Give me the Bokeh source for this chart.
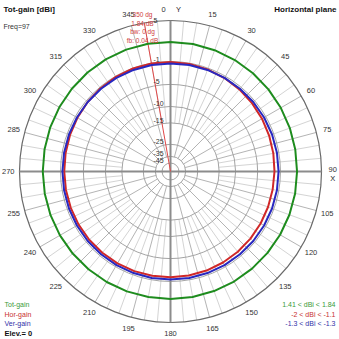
import math
from bokeh.plotting import figure
from bokeh.models import Range1d, Label, ColumnDataSource
from bokeh.core.properties import value
from bokeh.embed import file_html
from bokeh.resources import INLINE

# ---------------- data ----------------
angles_deg = [0, 10, 20, 30, 40, 50, 60, 70, 80, 90, 100, 110, 120, 130, 140, 150, 160, 170,
              180, 190, 200, 210, 220, 230, 240, 250, 260, 270, 280, 290, 300, 310, 320, 330, 340, 350]
tot_gain = [1.82, 1.79, 1.75, 1.70, 1.64, 1.58, 1.52, 1.47, 1.43, 1.41, 1.41, 1.41, 1.41, 1.42, 1.45, 1.48, 1.50, 1.52,
            1.53, 1.54, 1.55, 1.55, 1.55, 1.56, 1.56, 1.56, 1.56, 1.57, 1.59, 1.62, 1.66, 1.71, 1.76, 1.81, 1.83, 1.84]
hor_gain = [-1.08, -1.14, -1.22, -1.32, -1.44, -1.57, -1.69, -1.80, -1.89, -1.96, -2.00, -1.99, -1.95, -1.90, -1.84, -1.78, -1.73, -1.69,
            -1.66, -1.64, -1.63, -1.62, -1.62, -1.61, -1.61, -1.61, -1.60, -1.59, -1.55, -1.48, -1.39, -1.29, -1.19, -1.11, -1.06, -1.05]
ver_gain = [-1.3, -1.3, -1.3, -1.3, -1.3, -1.3, -1.3, -1.3, -1.3, -1.3, -1.3, -1.3, -1.3, -1.3, -1.3, -1.3, -1.3, -1.3,
            -1.3, -1.3, -1.3, -1.3, -1.3, -1.3, -1.3, -1.3, -1.3, -1.3, -1.3, -1.3, -1.3, -1.3, -1.3, -1.3, -1.3, -1.3]

ring_db = [-1, -5, -10, -15, -25, -35, -45]
ring_labels = ["-1", "-5", "-10", "-15", "-25", "-35", "-45"]
scale_max_db = 5
angle_ticks = [0, 15, 30, 45, 60, 75, 90, 105, 120, 135, 150, 165, 180, 195, 210, 225, 240, 255, 270, 285, 300, 315, 330, 345]
angle_tick_labels = ["0", "15", "30", "45", "60", "75", "90", "105", "120", "135", "150", "165", "180",
                     "195", "210", "225", "240", "255", "270", "285", "300", "315", "330", "345"]
max_dir = 350
max_info = ["350 dg", "1.84 dB", "bw: 0 dg", "fb: 0.04 dB"]
legend_names = ["Tot-gain", "Hor-gain", "Ver-gain"]
legend_ranges = ["1.41 < dBi < 1.84", "-2 < dBi < -1.1", "-1.3 < dBi < -1.3"]

# ---------------- layout ----------------
W = H = 339
U = 156.0      # px per normalized radius unit
CX, CY = 170, 171
R_OUT = 0.968
FONT = value("Liberation Sans")

GREEN = "#1e8c1e"
RED = "#d02828"
BLUE = "#2828c0"


def rad(db):
    return 0.89 ** ((scale_max_db - db) / 2.0)


def xy(theta, r):
    t = math.radians(theta)
    return r * math.sin(t), r * math.cos(t)


p = figure(width=W, height=H,
           x_range=Range1d(-CX / U, (W - CX) / U),
           y_range=Range1d(-(H - CY) / U, CY / U),
           output_backend="svg", toolbar_location=None, min_border=0,
           x_axis_location=None, y_axis_location=None)
p.grid.visible = False
p.outline_line_color = None
p.background_fill_color = "white"
p.border_fill_color = "white"

# spokes
for step, r0, col in [(5, rad(-15), "#d4d4d4"), (15, rad(-35), "#b4b4b4")]:
    x0s, y0s, x1s, y1s = [], [], [], []
    for a in range(0, 360, step):
        if a % 90 == 0:
            continue
        if step == 5 and a % 15 == 0:
            continue
        xa, ya = xy(a, r0)
        xb, yb = xy(a, R_OUT)
        x0s.append(xa); y0s.append(ya); x1s.append(xb); y1s.append(yb)
    p.segment(x0=x0s, y0=y0s, x1=x1s, y1=y1s, line_color=col, line_width=1)

# rings
p.circle(x=[0] * len(ring_db), y=[0] * len(ring_db), radius=[rad(d) for d in ring_db],
         fill_color=None, line_color="#a4a4a4", line_width=1)
p.circle(x=[0], y=[0], radius=[R_OUT], fill_color=None, line_color="#6a6a6a", line_width=1.2)

# axes
p.segment(x0=[-R_OUT, 0], y0=[0, -R_OUT], x1=[R_OUT, 0], y1=[0, R_OUT],
          line_color="#8c8c8c", line_width=2)

# max direction line
mx, my = xy(max_dir, R_OUT)
p.segment(x0=[0], y0=[0], x1=[mx], y1=[my], line_color="#e04848", line_width=1)


def trace(gains, color):
    xs, ys = [], []
    for a, g in zip(angles_deg + [angles_deg[0]], gains + [gains[0]]):
        x, y = xy(a, rad(g))
        xs.append(x); ys.append(y)
    p.line(xs, ys, line_color=color, line_width=2)


trace(tot_gain, GREEN)
trace(hor_gain, RED)
trace(ver_gain, BLUE)

# angle labels
LR = 1.04
tx, ty, tt = [], [], []
for a, s in zip(angle_ticks, angle_tick_labels):
    if a in (0, 90):
        continue
    x, y = xy(a, LR)
    tx.append(x); ty.append(y); tt.append(s)
p.text(x=tx, y=ty, text=tt, text_align="center", text_baseline="middle",
       text_font=FONT, text_font_size="7.5px", text_color="#333333")
x0l, y0l = xy(0, LR)
p.text(x=[x0l], y=[y0l], text=["0"], x_offset=-7, text_align="center", text_baseline="middle",
       text_font=FONT, text_font_size="7.5px", text_color="#333333")
p.text(x=[x0l], y=[y0l], text=["Y"], x_offset=8, text_align="center", text_baseline="middle",
       text_font=FONT, text_font_size="7.5px", text_color="#222222")
x9, y9 = xy(90, LR)
p.text(x=[x9], y=[y9], text=["90"], y_offset=-2, text_align="center", text_baseline="middle",
       text_font=FONT, text_font_size="7.5px", text_color="#333333")
p.text(x=[x9], y=[y9], text=["X"], y_offset=7, text_align="center", text_baseline="middle",
       text_font=FONT, text_font_size="7.5px", text_color="#222222")

# ring labels
p.text(x=[0] * len(ring_db), y=[rad(d) for d in ring_db], text=ring_labels, x_offset=-17,
       text_align="left", text_baseline="bottom", text_font=FONT, text_font_size="7px",
       text_color="#333333")
p.text(x=[0], y=[R_OUT], text=[str(scale_max_db)], x_offset=-17, y_offset=3,
       text_align="left", text_baseline="bottom", text_font=FONT, text_font_size="7px",
       text_color="#333333")

# max info text
for i, s in enumerate(max_info):
    p.add_layout(Label(x=142, y=H - (14 + 8.7 * i), x_units="screen", y_units="screen", text=s,
                       text_align="center", text_baseline="middle", text_font="Liberation Sans",
                       text_font_size="6.5px", text_color="#d03c3c"))

# titles
p.add_layout(Label(x=3, y=H - 9, x_units="screen", y_units="screen", text="Tot-gain [dBi]",
                   text_align="left", text_baseline="middle", text_font="Liberation Sans",
                   text_font_size="8px", text_font_style="bold", text_color="#111111"))
p.add_layout(Label(x=3, y=H - 26, x_units="screen", y_units="screen", text="Freq=97",
                   text_align="left", text_baseline="middle", text_font="Liberation Sans",
                   text_font_size="7px", text_color="#333333"))
p.add_layout(Label(x=336, y=H - 9, x_units="screen", y_units="screen", text="Horizontal plane",
                   text_align="right", text_baseline="middle", text_font="Liberation Sans",
                   text_font_size="8px", text_font_style="bold", text_color="#111111"))

cols = ["#3a9a3a", "#c83030", "#3030a8"]
for i, (nm, rg, c) in enumerate(zip(legend_names, legend_ranges, cols)):
    yy = H - (304 + 9.6 * i)
    p.add_layout(Label(x=4, y=yy, x_units="screen", y_units="screen", text=nm,
                       text_align="left", text_baseline="middle", text_font="Liberation Sans",
                       text_font_size="7px", text_color=c))
    p.add_layout(Label(x=335, y=yy, x_units="screen", y_units="screen", text=rg,
                       text_align="right", text_baseline="middle", text_font="Liberation Sans",
                       text_font_size="7px", text_color=c))
p.add_layout(Label(x=4, y=H - 333, x_units="screen", y_units="screen", text="Elev.= 0",
                   text_align="left", text_baseline="middle", text_font="Liberation Sans",
                   text_font_size="7.5px", text_font_style="bold", text_color="#111111"))

open("out.html", "w").write(file_html(p, INLINE))
